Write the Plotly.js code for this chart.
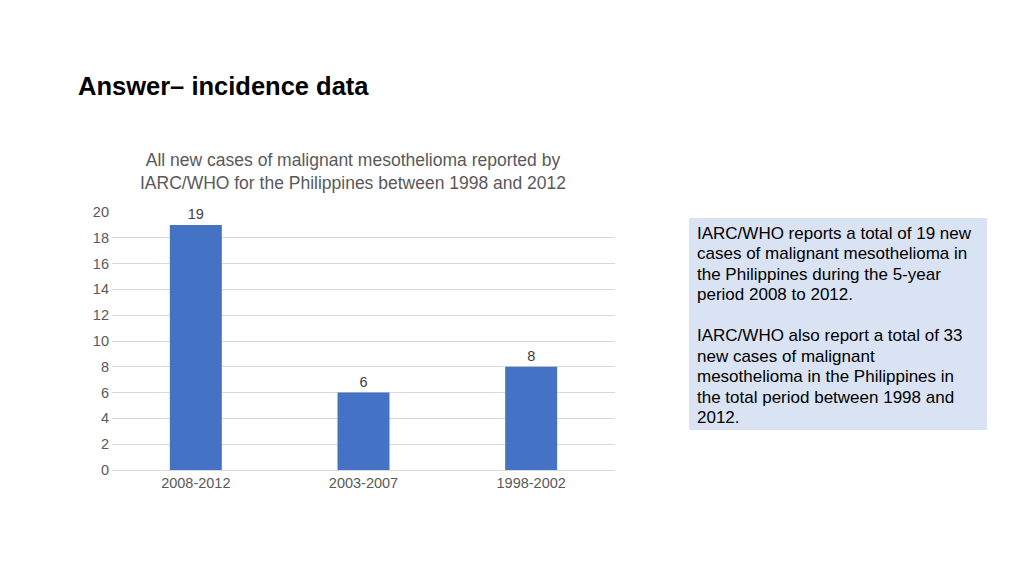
<!DOCTYPE html>
<html>
<head>
<meta charset="utf-8">
<script src="https://cdn.plot.ly/plotly-3.0.1.min.js"></script>
<style>html,body{margin:0;padding:0;background:#fff;}#chart{width:1024px;height:575px;}</style>
</head>
<body>
<div id="chart"></div>
<script>
const categories = ["2008-2012", "2003-2007", "1998-2002"];
const newCases = [19, 6, 8];
const yTicks = [0, 2, 4, 6, 8, 10, 12, 14, 16, 18, 20];

const noteLines = [
  "IARC/WHO reports a total of 19 new",
  "cases of malignant mesothelioma in",
  "the Philippines during the 5-year",
  "period 2008 to 2012.",
  "",
  "IARC/WHO also report a total of 33",
  "new cases of malignant",
  "mesothelioma in the Philippines in",
  "the total period between 1998 and",
  "2012."
];

const font = "'Liberation Sans', Arial, sans-serif";

// pixel helpers for the plot area (l=112, r=615, t=212, b=470)
const PL = 112, PR = 615, PT = 212, PB = 470;
const px = x => (x - PL) / (PR - PL);
const py = y => (PB - y) / (PB - PT);

const trace = {
  type: "bar",
  x: categories,
  y: newCases,
  marker: {color: "#4472c4"},
  text: newCases.map(String),
  textposition: "outside",
  textfont: {family: font, size: 14.5, color: "#404040"},
  cliponaxis: false,
  hoverinfo: "none"
};

const noteAnnotations = noteLines.map((line, i) => ({
  text: line,
  xref: "paper", yref: "paper",
  x: px(695), xanchor: "left",
  y: py(233 + i * 20.5), yanchor: "middle",
  showarrow: false,
  align: "left",
  font: {family: font, size: 17, color: "#000000"}
}));

const layout = {
  width: 1024,
  height: 575,
  paper_bgcolor: "#ffffff",
  plot_bgcolor: "#ffffff",
  margin: {l: PL, r: 1024 - PR, t: PT, b: 575 - PB},
  bargap: 0.69,
  showlegend: false,
  font: {family: font, color: "#595959"},
  title: {
    text: "All new cases of malignant mesothelioma reported by<br>IARC/WHO for the Philippines between 1998 and 2012",
    font: {family: font, size: 17.5, color: "#595959"},
    xref: "container", x: 353 / 1024, xanchor: "center",
    yref: "container", y: 1 - 166 / 575, yanchor: "top"
  },
  xaxis: {
    type: "category",
    showgrid: false,
    showline: true,
    linecolor: "#d9d9d9",
    linewidth: 1,
    ticks: "",
    tickfont: {family: font, size: 14.5, color: "#595959"},
    fixedrange: true
  },
  yaxis: {
    range: [0, 20],
    tickvals: yTicks,
    showgrid: true,
    gridcolor: "#d9d9d9",
    gridwidth: 1,
    zeroline: false,
    showline: false,
    ticks: "",
    ticklen: 0,
    ticklabelstandoff: 2,
    tickfont: {family: font, size: 14.5, color: "#595959"},
    fixedrange: true
  },
  shapes: [
    {
      type: "rect",
      xref: "paper", yref: "paper",
      x0: px(689), x1: px(987),
      y0: py(430), y1: py(218),
      fillcolor: "#dae3f3",
      line: {width: 0},
      layer: "below"
    }
  ],
  annotations: [
    {
      text: "<b>Answer– incidence data</b>",
      xref: "paper", yref: "paper",
      x: px(76), xanchor: "left",
      y: py(86), yanchor: "middle",
      showarrow: false,
      font: {family: font, size: 25.5, color: "#000000"}
    }
  ].concat(noteAnnotations)
};

Plotly.newPlot("chart", [trace], layout, {displayModeBar: false, staticPlot: true});
</script>
</body>
</html>
